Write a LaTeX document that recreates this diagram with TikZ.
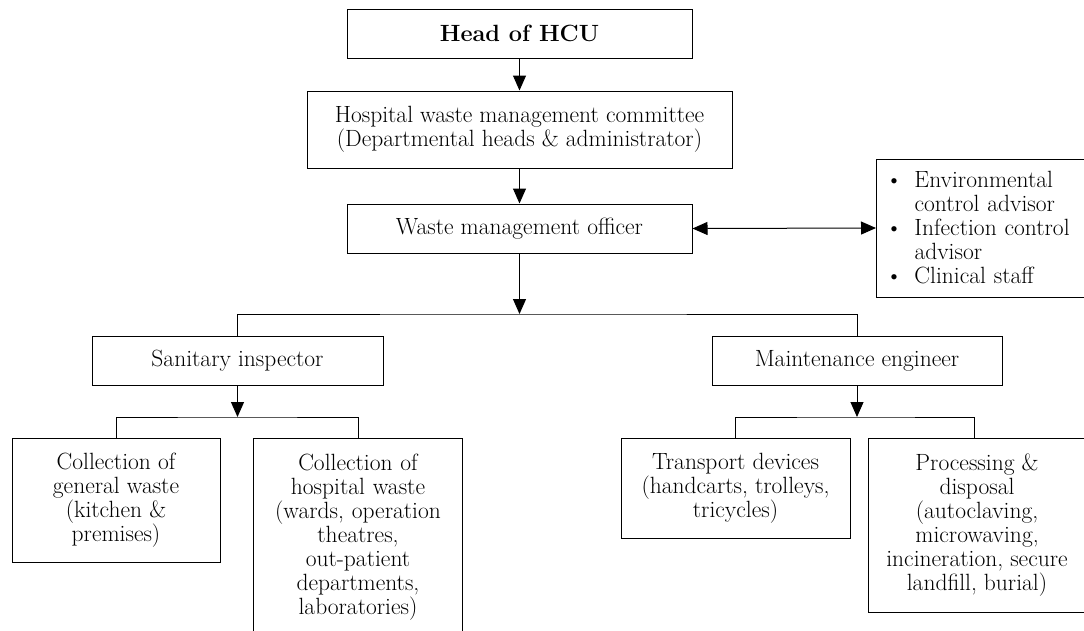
\documentclass[tikz,border=0pt]{standalone}
\usetikzlibrary{arrows.meta}
\begin{document}
\begin{tikzpicture}[x=1pt,y=-1pt,
  every node/.style={font=\fontsize{23.5}{24}\selectfont, inner sep=0pt},
  box/.style={draw, line width=1pt, align=center},
  lnk/.style={line width=1pt},
  arr/.style={line width=1pt, -{Triangle[width=13pt,length=15pt]}},
  darr/.style={line width=1pt, {Triangle[width=13pt,length=15pt]}-{Triangle[width=13pt,length=15pt]}}]
\clip (0,0) rectangle (1084,630);
\fill[white] (0,0) rectangle (1084,630);
% top chain
\node[box, minimum width=345pt, minimum height=49pt] (head) at (519.5,33.5) {\textbf{Head of HCU}};
\node[box, minimum width=425pt, minimum height=77pt] (comm) at (519.5,129.5) {Hospital waste management committee\\(Departmental heads \& administrator)};
\node[box, minimum width=345pt, minimum height=49pt] (wmo) at (519.5,228.5) {Waste management officer};
\node[draw, line width=1pt, align=left, anchor=west, minimum height=138pt, text width=190pt, inner xsep=38pt] (side) at (876,228)
  {\makebox[0pt][r]{\textbullet\hspace{12pt}}Environmental\\control advisor\\
   \makebox[0pt][r]{\textbullet\hspace{12pt}}Infection control\\advisor\\
   \makebox[0pt][r]{\textbullet\hspace{12pt}}Clinical staff};
\draw[arr] (head) -- (comm);
\draw[arr] (comm) -- (wmo);
\draw[darr] (wmo.east) -- (side.west);
% second level
\node[box, minimum width=291pt, minimum height=49pt] (si) at (237.5,360.5) {Sanitary inspector};
\node[box, minimum width=290pt, minimum height=49pt] (me) at (857,360.5) {Maintenance engineer};
\coordinate (bar1) at (519.5,314);
\draw[arr] (wmo.south) -- (bar1);
\draw[lnk] (si.north) |- (bar1) -| (me.north);
% sanitary branch
\node[box, minimum width=208pt, minimum height=124pt] (gen) at (116,500) {Collection of\\general waste\\(kitchen \&\\premises)};
\node[align=center, anchor=north, text width=208pt, inner ysep=16pt] (hosp) at (358,438) {Collection of\\hospital waste\\(wards, operation\\theatres,\\out-patient\\departments,\\laboratories)};
\draw[line width=1pt] (hosp.north west) -- ++(0,230) (hosp.north west) -- (hosp.north east) -- ++(0,230);
\coordinate (bar2) at (237.5,417);
\draw[arr] (si.south) -- (bar2);
\draw[lnk] (gen.north) |- (bar2) -| (hosp.north);
% maintenance branch
\node[box, minimum width=229pt, minimum height=100pt] (trans) at (735.5,488) {Transport devices\\(handcarts, trolleys,\\tricycles)};
\node[box, minimum width=218pt, minimum height=174pt] (proc) at (977,525) {Processing \&\\disposal\\(autoclaving,\\microwaving,\\incineration, secure\\landfill, burial)};
\coordinate (bar3) at (857,417);
\draw[arr] (me.south) -- (bar3);
\draw[lnk] (trans.north) |- (bar3) -| ([xshift=-3pt]proc.north);
\end{tikzpicture}
\end{document}
